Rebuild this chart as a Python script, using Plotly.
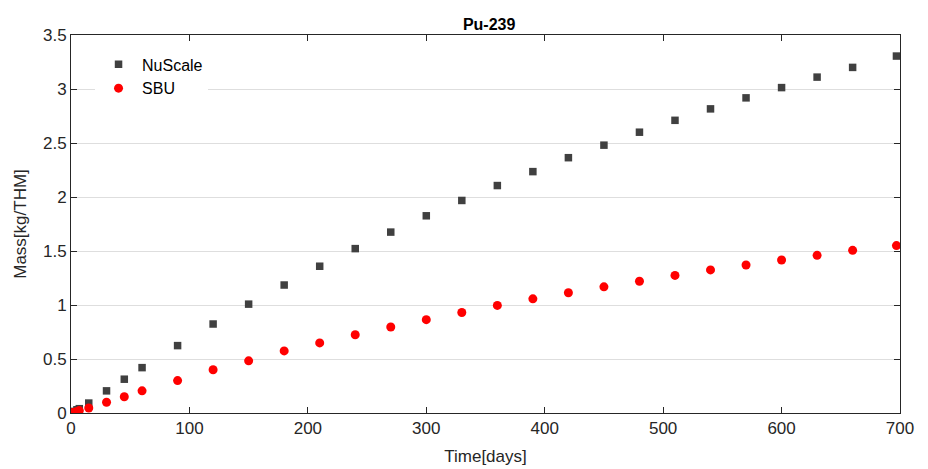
import plotly.graph_objects as go

# burnup time steps in days
days = [0, 1, 3, 5, 7, 15, 30, 45, 60, 90, 120, 150, 180, 210, 240, 270, 300,
        330, 360, 390, 420, 450, 480, 510, 540, 570, 600, 630, 660, 697]

# Pu-239 mass in kg/THM
nuscale_mass = [0.0, 0.004, 0.015, 0.03, 0.04, 0.092, 0.205, 0.313, 0.42, 0.624,
                0.824, 1.008, 1.185, 1.359, 1.522, 1.675, 1.826, 1.968, 2.106,
                2.235, 2.364, 2.48, 2.60, 2.71, 2.816, 2.918, 3.013, 3.11, 3.20, 3.305]
sbu_mass = [0.0, 0.002, 0.008, 0.015, 0.022, 0.046, 0.10, 0.15, 0.205, 0.30,
            0.40, 0.483, 0.575, 0.649, 0.725, 0.796, 0.864, 0.931, 0.996,
            1.057, 1.113, 1.168, 1.22, 1.274, 1.325, 1.37, 1.417, 1.46, 1.506, 1.55]

y_ticks = [0, 0.5, 1, 1.5, 2, 2.5, 3, 3.5]
y_labels = ['0', '0.5', '1', '1.5', '2', '2.5', '3', '3.5']
x_ticks = [0, 100, 200, 300, 400, 500, 600, 700]

font_family = 'Liberation Sans, Arial, sans-serif'
axis_color = '#262626'

fig = go.Figure()
fig.add_trace(go.Scatter(
    x=days, y=nuscale_mass, mode='markers', name='NuScale',
    marker=dict(symbol='square', size=7.5, color='#404040'),
))
fig.add_trace(go.Scatter(
    x=days, y=sbu_mass, mode='markers', name='SBU',
    marker=dict(symbol='circle', size=9, color='#ff0000'),
))

# page body adds 8px, so the figure is a bit smaller than the window
fig.update_layout(
    width=920, height=461,
    margin=dict(l=63, r=28, t=27, b=56, autoexpand=False),
    paper_bgcolor='white', plot_bgcolor='white',
    font=dict(family=font_family, size=16, color=axis_color),
    title=dict(text='<b>Pu-239</b>', x=0.523, xanchor='center', y=0.965, yanchor='middle',
               font=dict(size=16, color='#000000')),
    legend=dict(x=0.029, y=0.967, xanchor='left', yanchor='top',
                bgcolor='white', borderwidth=0, font=dict(size=16, color='#000000'),
                itemwidth=37, tracegroupgap=0),
    showlegend=True,
)
fig.update_xaxes(
    range=[0, 700], tickvals=x_ticks, showgrid=False, zeroline=False,
    showline=True, linecolor=axis_color, linewidth=1, mirror='ticks',
    ticks='inside', ticklen=6, tickcolor=axis_color, automargin=False,
    title=dict(text='Time[days]', standoff=12, font=dict(size=17)),
    tickfont=dict(size=17),
)
fig.update_yaxes(
    range=[0, 3.5], tickvals=y_ticks, ticktext=y_labels,
    showgrid=True, gridcolor='#dedede', gridwidth=1, zeroline=False,
    showline=True, linecolor=axis_color, linewidth=1, mirror='ticks',
    ticks='inside', ticklen=6, tickcolor=axis_color, automargin=False,
    title=dict(text='Mass[kg/THM]', standoff=12, font=dict(size=17)),
    tickfont=dict(size=17),
)

fig.write_html('out.html')
